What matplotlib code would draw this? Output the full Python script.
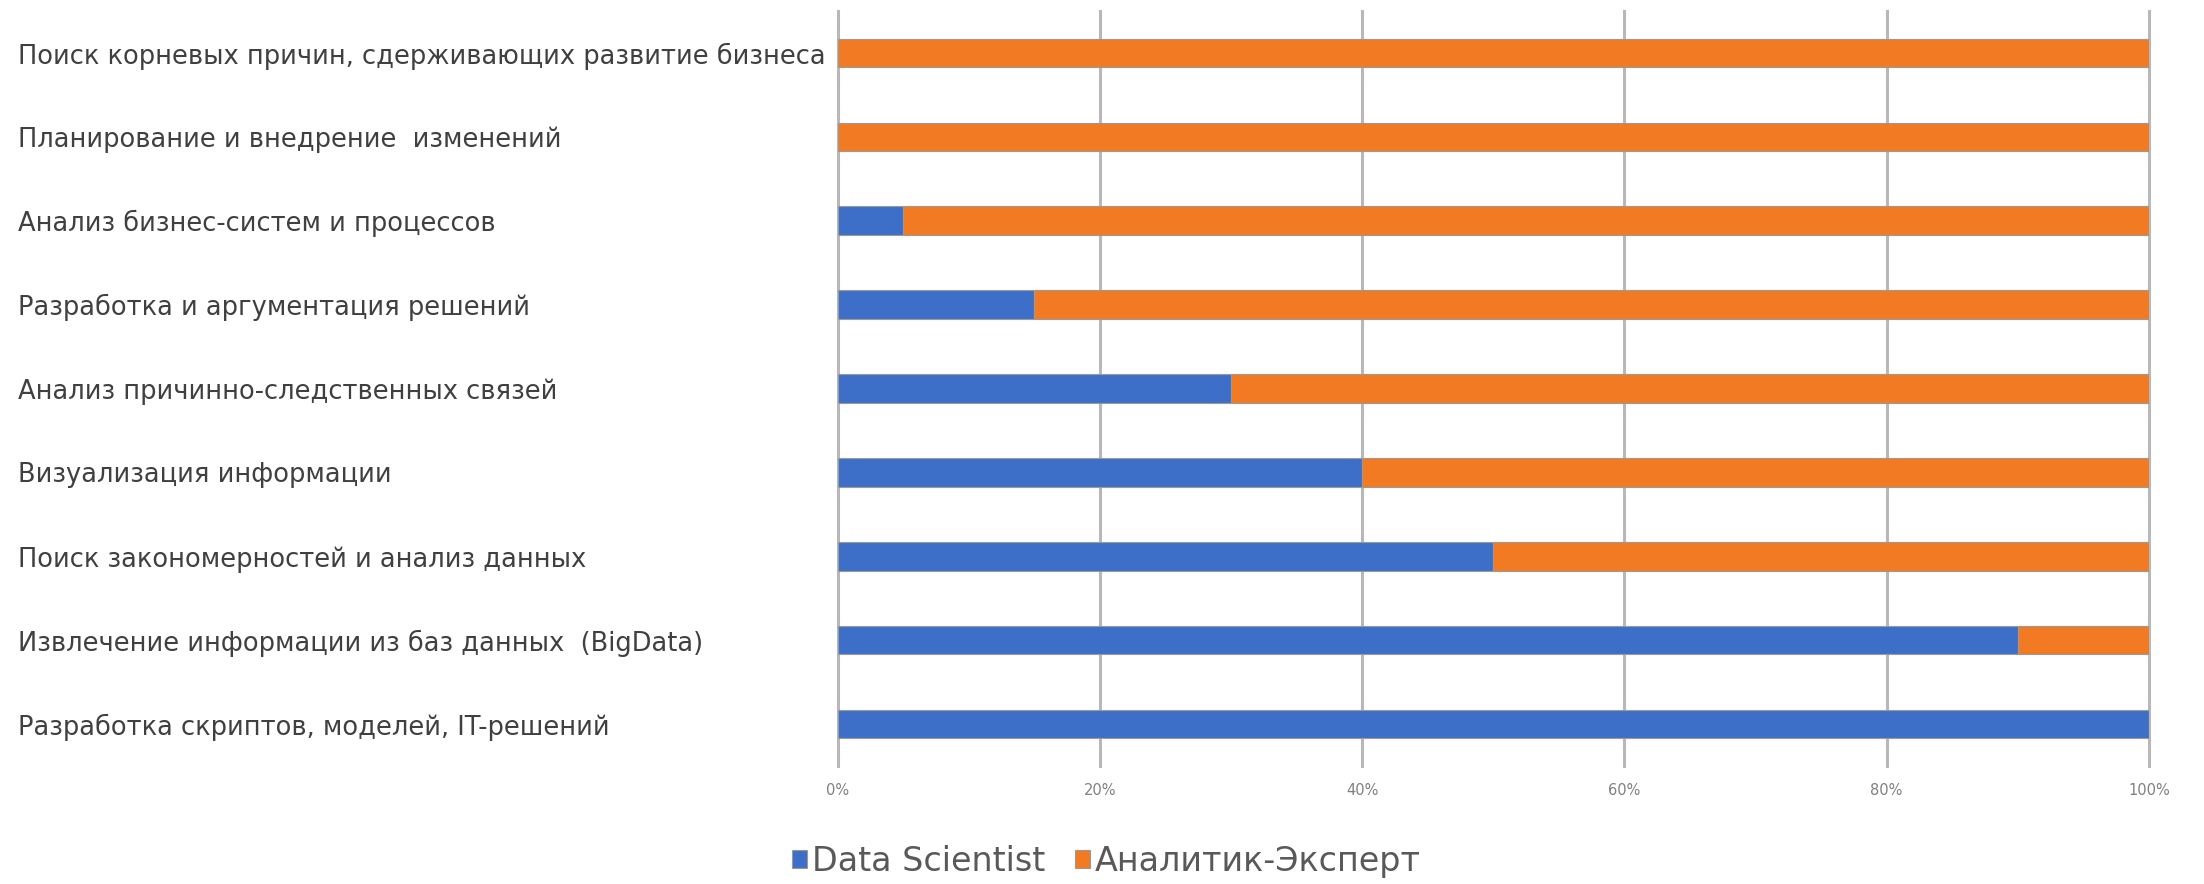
import numpy as np
import matplotlib
matplotlib.use("Agg")
import matplotlib.pyplot as plt
from matplotlib.ticker import FuncFormatter

# категории сверху вниз
categories = [
    "Поиск корневых причин, сдерживающих развитие бизнеса",
    "Планирование и внедрение  изменений",
    "Анализ бизнес-систем и процессов",
    "Разработка и аргументация решений",
    "Анализ причинно-следственных связей",
    "Визуализация информации",
    "Поиск закономерностей и анализ данных",
    "Извлечение информации из баз данных  (BigData)",
    "Разработка скриптов, моделей, IT-решений",
]
data_scientist = [0, 0, 5, 15, 30, 40, 50, 90, 100]
analyst_expert = [100, 100, 95, 85, 70, 60, 50, 10, 0]
series_names = ["Data Scientist", "Аналитик-Эксперт"]
x_ticks = [0, 20, 40, 60, 80, 100]

blue = "#3E6FC8"
orange = "#F27A22"

fig = plt.figure(figsize=(22.04, 8.84), dpi=100)
ax = fig.add_axes([0.380, 0.1335, 0.595, 0.854])

y = np.arange(len(categories))
ds = np.array(data_scientist)
ae = np.array(analyst_expert)
ax.barh(y, ds, height=0.34, color=blue, edgecolor="#9A9A9A", linewidth=0.8,
        label=series_names[0], zorder=3)
ax.barh(y, ae, left=ds, height=0.34, color=orange, edgecolor="#9A9A9A",
        linewidth=0.8, label=series_names[1], zorder=3)

ax.set_ylim(len(categories) - 0.5, -0.5)  # первая категория сверху
ax.set_xlim(0, 100)
ax.set_xticks(x_ticks)
ax.xaxis.set_major_formatter(FuncFormatter(lambda v, p: f"{v:.0f}%"))
ax.grid(axis="x", color="#B8B8B8", linewidth=2.2, zorder=0)
for gl in ax.get_xgridlines():
    gl.set_clip_on(False)  # крайние линии не обрезать
for s in ax.spines.values():
    s.set_visible(False)

ax.set_yticks(y)
ax.set_yticklabels(categories, ha="left", fontsize=18.5, color="#404040")
ax.tick_params(axis="y", length=0, pad=590)
ax.tick_params(axis="x", length=0, pad=12, labelsize=10.5, labelcolor="#808080")

leg = fig.legend(loc="center", bbox_to_anchor=(0.502, 0.026), ncol=2,
                 frameon=False, fontsize=24, handlelength=0.45,
                 handleheight=0.45, handletextpad=0.15, columnspacing=0.9)
for t in leg.get_texts():
    t.set_color("#595959")

fig.savefig("out.png", dpi=100, facecolor="white")
